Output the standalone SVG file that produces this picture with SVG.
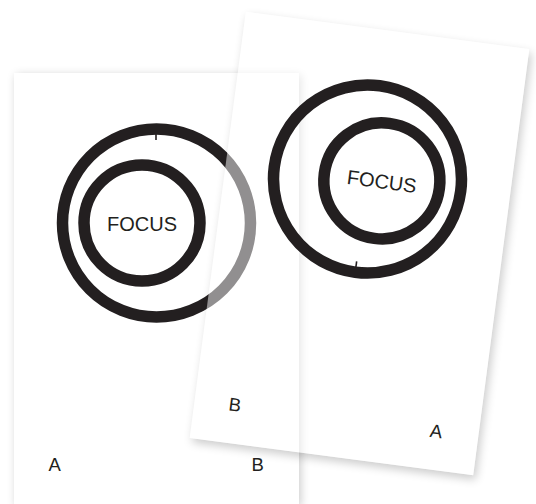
<svg xmlns="http://www.w3.org/2000/svg" width="536" height="504" viewBox="0 0 536 504">
  <defs>
    <style>
      .card { fill: #ffffff; }
      .ring { fill: none; stroke: #231f20; stroke-width: 11.5; }
      .tick { stroke: #231f20; stroke-width: 1.6; }
      .focus { font-family: "Liberation Sans", Arial, sans-serif; font-size: 20px; fill: #231f20; text-anchor: middle; }
      .lbl { font-family: "Liberation Sans", Arial, sans-serif; font-size: 18.5px; fill: #231f20; }
      .shadow { fill: #000000; opacity: 0.2; }
    </style>
    <filter id="blur" x="-20%" y="-20%" width="140%" height="140%">
      <feGaussianBlur stdDeviation="5"/>
    </filter>
    <mask id="maskB" maskUnits="userSpaceOnUse" x="-60" y="-60" width="406" height="550">
      <rect x="-60" y="-60" width="406" height="550" fill="#fff"/>
      <rect x="0" y="0" width="286" height="430" fill="#000"/>
    </mask>
  </defs>

  <rect x="0" y="0" width="536" height="504" fill="#ffffff"/>

  <g id="cardA" transform="translate(14,73)">
    <rect class="shadow" x="2" y="2" width="285" height="432" filter="url(#blur)"/>
    <rect class="card" x="0" y="0" width="285" height="432"/>
    <circle class="ring" cx="142.5" cy="150" r="94"/>
    <circle class="ring" cx="128" cy="150" r="58"/>
    <line class="tick" x1="142" y1="61" x2="142" y2="67"/>
    <text class="focus" x="128" y="157.5">FOCUS</text>
    <text class="lbl" x="34.5" y="397.5">A</text>
    <text class="lbl" x="237.5" y="397.5">B</text>
  </g>

  <g id="cardB" transform="translate(359.5,243.5) rotate(7.5) translate(-143,-215)">
    <g mask="url(#maskB)">
      <rect class="shadow" x="3" y="4" width="286" height="430" filter="url(#blur)"/>
    </g>
    <rect class="card" x="0" y="0" width="286" height="430" fill-opacity="0.5"/>
    <circle class="ring" cx="142.5" cy="150" r="94"/>
    <circle class="ring" cx="157" cy="150" r="58"/>
    <line class="tick" x1="142.5" y1="239" x2="142.5" y2="233"/>
    <text class="focus" x="157" y="157.5">FOCUS</text>
    <text class="lbl" x="34.5" y="397.5">B</text>
    <text class="lbl" x="237.5" y="397.5">A</text>
  </g>
</svg>
